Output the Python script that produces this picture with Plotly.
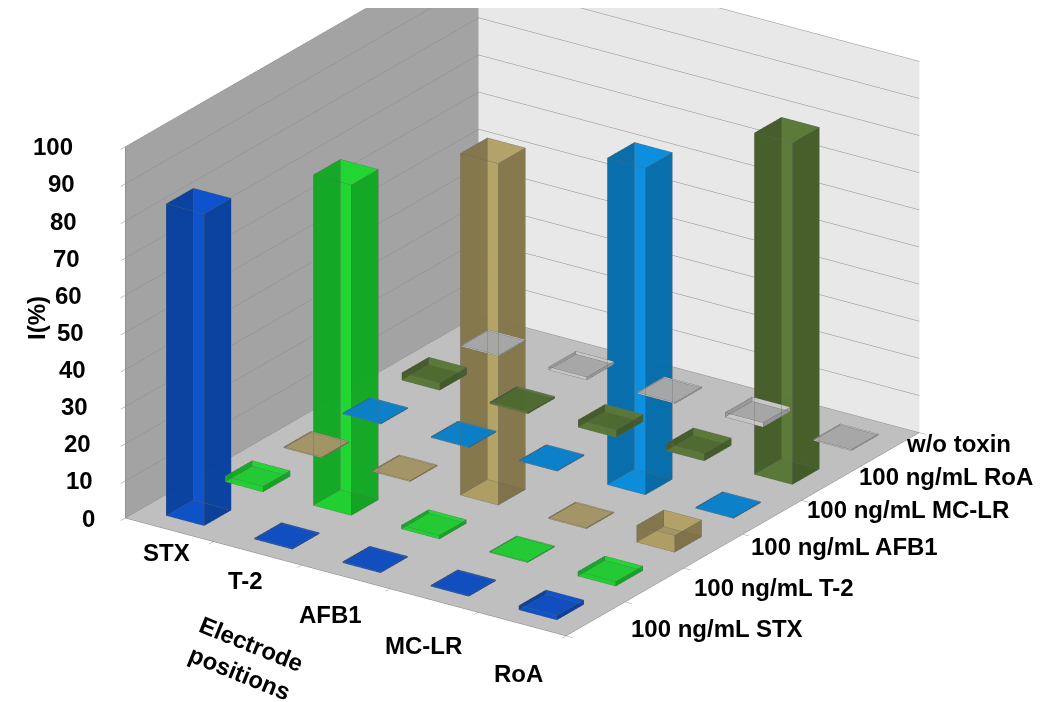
import plotly.graph_objects as go
import numpy as np

electrodes = ["STX", "T-2", "AFB1", "MC-LR", "RoA"]
samples = ["100 ng/mL STX", "100 ng/mL T-2", "100 ng/mL AFB1",
           "100 ng/mL MC-LR", "100 ng/mL RoA", "w/o toxin"]

# I(%) per sample row, one value per electrode position
val_stx = [84, 0.3, 0.3, 0.3, 1.2]
val_t2 = [1.5, 89, 1.0, 0.3, 1.2]
val_afb1 = [0.3, 0.3, 92, 0.3, 4.5]
val_mclr = [0.3, 0.3, 0.3, 88, 0.3]
val_roa = [2.0, 0.5, 2.0, 2.0, 92]
val_wo = [0.3, 0.8, 0.3, 1.2, 0.3]
rows = [val_stx, val_t2, val_afb1, val_mclr, val_roa, val_wo]

z_ticks = [0, 10, 20, 30, 40, 50, 60, 70, 80, 90, 100]

# (top, front, side) colours per sample row
row_colors = [
    ("#0f4ec4", "#0b52cc", "#083f9a"),
    ("#22cf34", "#1fd631", "#12a323"),
    ("#a8996a", "#b3a366", "#7f7248"),
    ("#0a82cc", "#0a8fe0", "#066aa6"),
    ("#4f6c30", "#5b7a37", "#415a27"),
    ("#a9a9a9", "#cccccc", "#959595"),
]

# label placement offsets (pixels) relative to the axis tick points
elec_dx = [-3, -12, -15, -10, -4]
elec_dy = [-23, -27, -38, -45, -49]
samp_dx = [33, 38, 36, 33, 26, 14]
samp_dy = [-10, -2, 5, 8, 7, 6]

HX, HY = 0.215, 0.23
X, Y, Z, I, J, K, FC = [], [], [], [], [], [], []
ex, ey, ez = [], [], []
for j, row in enumerate(rows):
    top, front, side = row_colors[j]
    for i, h in enumerate(row):
        x0, x1 = i - HX, i + HX
        y0, y1 = j - HY, j + HY
        b = len(X)
        pts = [(x0, y0, 0), (x1, y0, 0), (x1, y1, 0), (x0, y1, 0),
               (x0, y0, h), (x1, y0, h), (x1, y1, h), (x0, y1, h)]
        for p in pts:
            X.append(p[0]); Y.append(p[1]); Z.append(p[2])
        faces = [((0, 1, 2), side), ((0, 2, 3), side),
                 ((4, 5, 6), top), ((4, 6, 7), top),
                 ((0, 1, 5), front), ((0, 5, 4), front),
                 ((3, 2, 6), front), ((3, 6, 7), front),
                 ((0, 3, 7), side), ((0, 7, 4), side),
                 ((1, 2, 6), side), ((1, 6, 5), side)]
        for (a, c, d), col in faces:
            I.append(b + a); J.append(b + c); K.append(b + d); FC.append(col)
        edges = [(0, 1), (1, 2), (2, 3), (3, 0), (4, 5), (5, 6), (6, 7), (7, 4),
                 (0, 4), (1, 5), (2, 6), (3, 7)]
        for a, c in edges:
            ex += [pts[a][0], pts[c][0], None]
            ey += [pts[a][1], pts[c][1], None]
            ez += [pts[a][2], pts[c][2], None]

fig = go.Figure()
fig.add_trace(go.Mesh3d(x=X, y=Y, z=Z, i=I, j=J, k=K, facecolor=FC,
                        flatshading=True, hoverinfo="skip", opacity=0.88,
                        lighting=dict(ambient=1, diffuse=0, specular=0,
                                      fresnel=0, roughness=1)))
fig.add_trace(go.Scatter3d(x=ex, y=ey, z=ez, mode="lines",
                           line=dict(color="rgba(60,60,60,0.6)", width=1),
                           hoverinfo="skip", showlegend=False))

font = dict(family="Liberation Sans, Arial, sans-serif", size=24, color="black")
ann = []
for v in z_ticks:
    ann.append(dict(x=-0.5, y=-0.5, z=v, text="<b>%d</b>" % v, showarrow=False,
                    xanchor="right", yanchor="middle",
                    xshift=int(round(-28 - 0.22 * v)), font=font))
for i, e in enumerate(electrodes):
    ann.append(dict(x=i, y=-0.5, z=0, text="<b>%s</b>" % e, showarrow=False,
                    xanchor="center", yanchor="middle", xshift=elec_dx[i],
                    yshift=elec_dy[i], font=font))
for j, s in enumerate(samples):
    ann.append(dict(x=4.5, y=j, z=0, text="<b>%s</b>" % s, showarrow=False,
                    xanchor="left", yanchor="middle", xshift=samp_dx[j],
                    yshift=samp_dy[j], font=font))

axis_common = dict(showgrid=False, zeroline=False, showticklabels=False,
                   showspikes=False, title=dict(text=""), ticks="outside",
                   ticklen=8, tickcolor="#808080", showline=True,
                   linecolor="#808080", linewidth=1)

view = np.array([0.518, -0.760, 0.392])
center = np.array([0.0747, -0.0428, -0.1816])
eye = center + 3.0 * view
fig.update_layout(
    width=1055, height=702, margin=dict(l=0, r=0, t=0, b=0),
    paper_bgcolor="white", showlegend=False,
    scene=dict(
        domain=dict(x=[0, 1], y=[0, 1]),
        xaxis=dict(range=[-0.5, 4.5], tickvals=[-0.5, 0.5, 1.5, 2.5, 3.5, 4.5],
                   showbackground=True, backgroundcolor="#a3a3a3", **axis_common),
        yaxis=dict(range=[-0.5, 5.5], tickvals=[-0.5, 0.5, 1.5, 2.5, 3.5, 4.5, 5.5],
                   showbackground=True, backgroundcolor="#e8e8e8", **axis_common),
        zaxis=dict(range=[0, 100], tickvals=z_ticks, showbackground=True,
                   backgroundcolor="#bfbfbf",
                   **{**axis_common, "showgrid": True, "gridcolor": "#8a8a8a",
                      "gridwidth": 1}),
        aspectmode="manual", aspectratio=dict(x=1.52, y=1.787, z=1.15),
        camera=dict(eye=dict(x=eye[0], y=eye[1], z=eye[2]),
                    center=dict(x=center[0], y=center[1], z=center[2]),
                    up=dict(x=0, y=0, z=1),
                    projection=dict(type="orthographic")),
        annotations=ann,
    ),
    annotations=[
        dict(x=28 / 1055, y=1 - 310 / 702, xref="paper", yref="paper",
             xanchor="center", yanchor="middle",
             text="<b>I(%)</b>", textangle=-90, showarrow=False, font=font),
        dict(x=237 / 1055, y=1 - 650 / 702, xref="paper", yref="paper",
             xanchor="center", yanchor="middle",
             text="<b>Electrode<br>positions</b>", textangle=22, showarrow=False,
             font=font),
    ],
)
fig.write_html("out.html")
